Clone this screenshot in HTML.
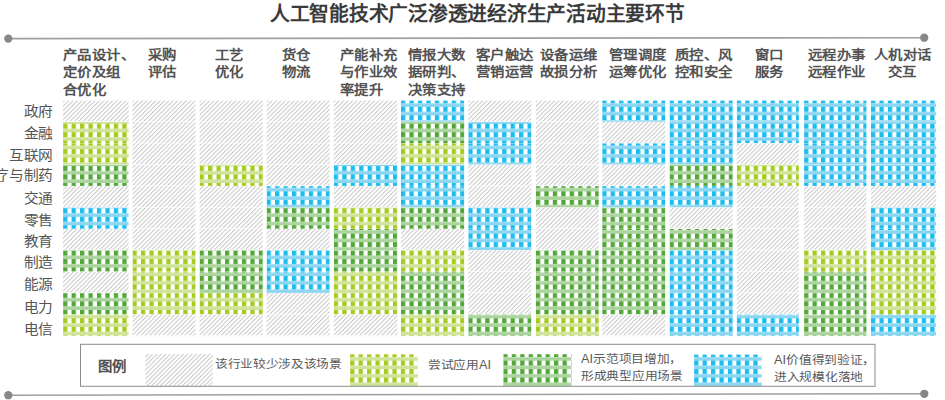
<!DOCTYPE html>
<html lang="zh-CN"><head><meta charset="utf-8"><style>
html,body{margin:0;padding:0;background:#fff;}
body{width:945px;height:400px;position:relative;overflow:hidden;font-family:"Liberation Sans",sans-serif;}
.t{position:absolute;left:270.1px;top:3.8px;font-size:20px;font-weight:bold;color:#3a3a3a;white-space:nowrap;line-height:20px;transform:scaleX(0.987);transform-origin:0 0;}
.h{position:absolute;top:45.8px;font-size:15px;font-weight:bold;color:#525252;line-height:20px;white-space:nowrap;transform:scale(0.96,0.865);transform-origin:0 0;}
.r{position:absolute;right:892.3px;font-size:15px;color:#555;line-height:20px;white-space:nowrap;text-align:right;transform:scale(0.98,0.9);transform-origin:100% 50%;}
.lg{position:absolute;font-size:13px;color:#595959;line-height:18.7px;white-space:nowrap;transform:scale(0.98,0.915);transform-origin:0 0;}
</style></head><body>
<svg width="945" height="400" viewBox="0 0 945 400" style="position:absolute;left:0;top:0">
<defs><pattern id="pL" x="0" y="5.36" width="8.46" height="8.46" patternUnits="userSpaceOnUse">
<rect width="8.46" height="8.46" fill="#fff"/><rect width="4.3" height="5.0" fill="#a6ca1e"/><rect y="5.0" width="8.46" height="3.46" fill="#cfe49a"/></pattern><pattern id="pD" x="0" y="5.36" width="8.46" height="8.46" patternUnits="userSpaceOnUse">
<rect width="8.46" height="8.46" fill="#fff"/><rect width="4.3" height="5.0" fill="#53a73a"/><rect y="5.0" width="8.46" height="3.46" fill="#acd49e"/></pattern><pattern id="pB" x="0" y="5.36" width="8.46" height="8.46" patternUnits="userSpaceOnUse">
<rect width="8.46" height="8.46" fill="#fff"/><rect width="4.3" height="5.0" fill="#1bbdee"/><rect y="5.0" width="8.46" height="3.46" fill="#8dd6f1"/></pattern><pattern id="pG" width="3.11" height="10" patternUnits="userSpaceOnUse" patternTransform="rotate(45)">
<rect width="3.11" height="10" fill="#fff"/><rect width="1.0" height="10" fill="#c8c8c8"/></pattern></defs>
<line x1="8.3" y1="38.6" x2="924.2" y2="37.7" stroke="#a0a0a0" stroke-width="1.6"/>
<circle cx="8.3" cy="38.6" r="4.15" fill="#878787"/>
<circle cx="924.2" cy="37.7" r="4.15" fill="#878787"/>
<line x1="8.3" y1="395.2" x2="924.3" y2="393.8" stroke="#a0a0a0" stroke-width="1.6"/>
<circle cx="8.3" cy="395.2" r="4.15" fill="#878787"/>
<circle cx="924.3" cy="393.8" r="4.15" fill="#878787"/>
<g transform="translate(63.1,0)"><rect y="100.60" width="65.5" height="20.7" fill="url(#pG)"/></g><g transform="translate(132.5,0)"><rect y="100.60" width="63.0" height="20.7" fill="url(#pG)"/></g><g transform="translate(199.6,0)"><rect y="100.60" width="63.2" height="20.7" fill="url(#pG)"/></g><g transform="translate(266.6,0)"><rect y="100.60" width="63.0" height="20.7" fill="url(#pG)"/></g><g transform="translate(333.8,0)"><rect y="100.60" width="63.5" height="20.7" fill="url(#pG)"/></g><g transform="translate(401.0,0)"><rect y="100.60" width="63.2" height="21.1" fill="url(#pB)"/></g><g transform="translate(468.3,0)"><rect y="100.60" width="63.0" height="20.7" fill="url(#pG)"/></g><g transform="translate(535.9,0)"><rect y="100.60" width="62.8" height="20.7" fill="url(#pG)"/></g><g transform="translate(602.2,0)"><rect y="100.60" width="63.0" height="21.1" fill="url(#pB)"/></g><g transform="translate(669.6,0)"><rect y="100.60" width="63.1" height="21.1" fill="url(#pB)"/></g><g transform="translate(736.8,0)"><rect y="100.60" width="62.0" height="21.1" fill="url(#pB)"/></g><g transform="translate(804.1,0)"><rect y="100.60" width="62.3" height="21.1" fill="url(#pB)"/></g><g transform="translate(871.0,0)"><rect y="100.60" width="65.2" height="21.1" fill="url(#pB)"/></g><g transform="translate(63.1,0)"><rect y="122.00" width="65.5" height="21.1" fill="url(#pL)"/></g><g transform="translate(132.5,0)"><rect y="122.00" width="63.0" height="20.7" fill="url(#pG)"/></g><g transform="translate(199.6,0)"><rect y="122.00" width="63.2" height="20.7" fill="url(#pG)"/></g><g transform="translate(266.6,0)"><rect y="122.00" width="63.0" height="20.7" fill="url(#pG)"/></g><g transform="translate(333.8,0)"><rect y="122.00" width="63.5" height="20.7" fill="url(#pG)"/></g><g transform="translate(401.0,0)"><rect y="122.00" width="63.2" height="21.1" fill="url(#pD)"/></g><g transform="translate(468.3,0)"><rect y="122.00" width="63.0" height="21.1" fill="url(#pB)"/></g><g transform="translate(535.9,0)"><rect y="122.00" width="62.8" height="20.7" fill="url(#pG)"/></g><g transform="translate(602.2,0)"><rect y="122.00" width="63.0" height="20.7" fill="url(#pG)"/></g><g transform="translate(669.6,0)"><rect y="122.00" width="63.1" height="21.1" fill="url(#pB)"/></g><g transform="translate(736.8,0)"><rect y="122.00" width="62.0" height="21.1" fill="url(#pB)"/></g><g transform="translate(804.1,0)"><rect y="122.00" width="62.3" height="21.1" fill="url(#pB)"/></g><g transform="translate(871.0,0)"><rect y="122.00" width="65.2" height="21.1" fill="url(#pB)"/></g><g transform="translate(63.1,0)"><rect y="143.40" width="65.5" height="21.1" fill="url(#pL)"/></g><g transform="translate(132.5,0)"><rect y="143.40" width="63.0" height="20.7" fill="url(#pG)"/></g><g transform="translate(199.6,0)"><rect y="143.40" width="63.2" height="20.7" fill="url(#pG)"/></g><g transform="translate(266.6,0)"><rect y="143.40" width="63.0" height="20.7" fill="url(#pG)"/></g><g transform="translate(333.8,0)"><rect y="143.40" width="63.5" height="20.7" fill="url(#pG)"/></g><g transform="translate(401.0,0)"><rect y="143.40" width="63.2" height="21.1" fill="url(#pL)"/></g><g transform="translate(468.3,0)"><rect y="143.40" width="63.0" height="21.1" fill="url(#pB)"/></g><g transform="translate(535.9,0)"><rect y="143.40" width="62.8" height="20.7" fill="url(#pG)"/></g><g transform="translate(602.2,0)"><rect y="143.40" width="63.0" height="21.1" fill="url(#pB)"/></g><g transform="translate(669.6,0)"><rect y="143.40" width="63.1" height="21.1" fill="url(#pB)"/></g><g transform="translate(736.8,0)"><rect y="143.40" width="62.0" height="20.7" fill="url(#pG)"/></g><g transform="translate(804.1,0)"><rect y="143.40" width="62.3" height="21.1" fill="url(#pB)"/></g><g transform="translate(871.0,0)"><rect y="143.40" width="65.2" height="21.1" fill="url(#pB)"/></g><g transform="translate(63.1,0)"><rect y="164.80" width="65.5" height="21.1" fill="url(#pD)"/></g><g transform="translate(132.5,0)"><rect y="164.80" width="63.0" height="20.7" fill="url(#pG)"/></g><g transform="translate(199.6,0)"><rect y="164.80" width="63.2" height="21.1" fill="url(#pL)"/></g><g transform="translate(266.6,0)"><rect y="164.80" width="63.0" height="20.7" fill="url(#pG)"/></g><g transform="translate(333.8,0)"><rect y="164.80" width="63.5" height="21.1" fill="url(#pB)"/></g><g transform="translate(401.0,0)"><rect y="164.80" width="63.2" height="21.1" fill="url(#pB)"/></g><g transform="translate(468.3,0)"><rect y="164.80" width="63.0" height="20.7" fill="url(#pG)"/></g><g transform="translate(535.9,0)"><rect y="164.80" width="62.8" height="20.7" fill="url(#pG)"/></g><g transform="translate(602.2,0)"><rect y="164.80" width="63.0" height="20.7" fill="url(#pG)"/></g><g transform="translate(669.6,0)"><rect y="164.80" width="63.1" height="21.1" fill="url(#pD)"/></g><g transform="translate(736.8,0)"><rect y="164.80" width="62.0" height="21.1" fill="url(#pL)"/></g><g transform="translate(804.1,0)"><rect y="164.80" width="62.3" height="21.1" fill="url(#pB)"/></g><g transform="translate(871.0,0)"><rect y="164.80" width="65.2" height="21.1" fill="url(#pB)"/></g><g transform="translate(63.1,0)"><rect y="186.20" width="65.5" height="20.7" fill="url(#pG)"/></g><g transform="translate(132.5,0)"><rect y="186.20" width="63.0" height="20.7" fill="url(#pG)"/></g><g transform="translate(199.6,0)"><rect y="186.20" width="63.2" height="20.7" fill="url(#pG)"/></g><g transform="translate(266.6,0)"><rect y="186.20" width="63.0" height="21.1" fill="url(#pB)"/></g><g transform="translate(333.8,0)"><rect y="186.20" width="63.5" height="20.7" fill="url(#pG)"/></g><g transform="translate(401.0,0)"><rect y="186.20" width="63.2" height="21.1" fill="url(#pB)"/></g><g transform="translate(468.3,0)"><rect y="186.20" width="63.0" height="20.7" fill="url(#pG)"/></g><g transform="translate(535.9,0)"><rect y="186.20" width="62.8" height="21.1" fill="url(#pD)"/></g><g transform="translate(602.2,0)"><rect y="186.20" width="63.0" height="21.1" fill="url(#pB)"/></g><g transform="translate(669.6,0)"><rect y="186.20" width="63.1" height="21.1" fill="url(#pB)"/></g><g transform="translate(736.8,0)"><rect y="186.20" width="62.0" height="20.7" fill="url(#pG)"/></g><g transform="translate(804.1,0)"><rect y="186.20" width="62.3" height="20.7" fill="url(#pG)"/></g><g transform="translate(871.0,0)"><rect y="186.20" width="65.2" height="20.7" fill="url(#pG)"/></g><g transform="translate(63.1,0)"><rect y="207.60" width="65.5" height="21.1" fill="url(#pB)"/></g><g transform="translate(132.5,0)"><rect y="207.60" width="63.0" height="20.7" fill="url(#pG)"/></g><g transform="translate(199.6,0)"><rect y="207.60" width="63.2" height="20.7" fill="url(#pG)"/></g><g transform="translate(266.6,0)"><rect y="207.60" width="63.0" height="21.1" fill="url(#pD)"/></g><g transform="translate(333.8,0)"><rect y="207.60" width="63.5" height="21.1" fill="url(#pL)"/></g><g transform="translate(401.0,0)"><rect y="207.60" width="63.2" height="21.1" fill="url(#pD)"/></g><g transform="translate(468.3,0)"><rect y="207.60" width="63.0" height="21.1" fill="url(#pB)"/></g><g transform="translate(535.9,0)"><rect y="207.60" width="62.8" height="20.7" fill="url(#pG)"/></g><g transform="translate(602.2,0)"><rect y="207.60" width="63.0" height="21.1" fill="url(#pD)"/></g><g transform="translate(669.6,0)"><rect y="207.60" width="63.1" height="20.7" fill="url(#pG)"/></g><g transform="translate(736.8,0)"><rect y="207.60" width="62.0" height="20.7" fill="url(#pG)"/></g><g transform="translate(804.1,0)"><rect y="207.60" width="62.3" height="20.7" fill="url(#pG)"/></g><g transform="translate(871.0,0)"><rect y="207.60" width="65.2" height="21.1" fill="url(#pB)"/></g><g transform="translate(63.1,0)"><rect y="229.00" width="65.5" height="20.7" fill="url(#pG)"/></g><g transform="translate(132.5,0)"><rect y="229.00" width="63.0" height="20.7" fill="url(#pG)"/></g><g transform="translate(199.6,0)"><rect y="229.00" width="63.2" height="20.7" fill="url(#pG)"/></g><g transform="translate(266.6,0)"><rect y="229.00" width="63.0" height="20.7" fill="url(#pG)"/></g><g transform="translate(333.8,0)"><rect y="229.00" width="63.5" height="21.1" fill="url(#pD)"/></g><g transform="translate(401.0,0)"><rect y="229.00" width="63.2" height="20.7" fill="url(#pG)"/></g><g transform="translate(468.3,0)"><rect y="229.00" width="63.0" height="21.1" fill="url(#pB)"/></g><g transform="translate(535.9,0)"><rect y="229.00" width="62.8" height="20.7" fill="url(#pG)"/></g><g transform="translate(602.2,0)"><rect y="229.00" width="63.0" height="21.1" fill="url(#pD)"/></g><g transform="translate(669.6,0)"><rect y="229.00" width="63.1" height="21.1" fill="url(#pD)"/></g><g transform="translate(736.8,0)"><rect y="229.00" width="62.0" height="20.7" fill="url(#pG)"/></g><g transform="translate(804.1,0)"><rect y="229.00" width="62.3" height="20.7" fill="url(#pG)"/></g><g transform="translate(871.0,0)"><rect y="229.00" width="65.2" height="21.1" fill="url(#pB)"/></g><g transform="translate(63.1,0)"><rect y="250.40" width="65.5" height="21.1" fill="url(#pD)"/></g><g transform="translate(132.5,0)"><rect y="250.40" width="63.0" height="21.1" fill="url(#pL)"/></g><g transform="translate(199.6,0)"><rect y="250.40" width="63.2" height="21.1" fill="url(#pD)"/></g><g transform="translate(266.6,0)"><rect y="250.40" width="63.0" height="21.1" fill="url(#pB)"/></g><g transform="translate(333.8,0)"><rect y="250.40" width="63.5" height="21.1" fill="url(#pD)"/></g><g transform="translate(401.0,0)"><rect y="250.40" width="63.2" height="21.1" fill="url(#pL)"/></g><g transform="translate(468.3,0)"><rect y="250.40" width="63.0" height="20.7" fill="url(#pG)"/></g><g transform="translate(535.9,0)"><rect y="250.40" width="62.8" height="21.1" fill="url(#pD)"/></g><g transform="translate(602.2,0)"><rect y="250.40" width="63.0" height="21.1" fill="url(#pD)"/></g><g transform="translate(669.6,0)"><rect y="250.40" width="63.1" height="21.1" fill="url(#pB)"/></g><g transform="translate(736.8,0)"><rect y="250.40" width="62.0" height="20.7" fill="url(#pG)"/></g><g transform="translate(804.1,0)"><rect y="250.40" width="62.3" height="21.1" fill="url(#pL)"/></g><g transform="translate(871.0,0)"><rect y="250.40" width="65.2" height="21.1" fill="url(#pL)"/></g><g transform="translate(63.1,0)"><rect y="271.80" width="65.5" height="20.7" fill="url(#pG)"/></g><g transform="translate(132.5,0)"><rect y="271.80" width="63.0" height="21.1" fill="url(#pL)"/></g><g transform="translate(199.6,0)"><rect y="271.80" width="63.2" height="21.1" fill="url(#pD)"/></g><g transform="translate(266.6,0)"><rect y="271.80" width="63.0" height="21.1" fill="url(#pB)"/></g><g transform="translate(333.8,0)"><rect y="271.80" width="63.5" height="21.1" fill="url(#pL)"/></g><g transform="translate(401.0,0)"><rect y="271.80" width="63.2" height="21.1" fill="url(#pD)"/></g><g transform="translate(468.3,0)"><rect y="271.80" width="63.0" height="20.7" fill="url(#pG)"/></g><g transform="translate(535.9,0)"><rect y="271.80" width="62.8" height="21.1" fill="url(#pD)"/></g><g transform="translate(602.2,0)"><rect y="271.80" width="63.0" height="21.1" fill="url(#pD)"/></g><g transform="translate(669.6,0)"><rect y="271.80" width="63.1" height="21.1" fill="url(#pB)"/></g><g transform="translate(736.8,0)"><rect y="271.80" width="62.0" height="20.7" fill="url(#pG)"/></g><g transform="translate(804.1,0)"><rect y="271.80" width="62.3" height="21.1" fill="url(#pD)"/></g><g transform="translate(871.0,0)"><rect y="271.80" width="65.2" height="21.1" fill="url(#pL)"/></g><g transform="translate(63.1,0)"><rect y="293.20" width="65.5" height="21.1" fill="url(#pD)"/></g><g transform="translate(132.5,0)"><rect y="293.20" width="63.0" height="21.1" fill="url(#pL)"/></g><g transform="translate(199.6,0)"><rect y="293.20" width="63.2" height="21.1" fill="url(#pL)"/></g><g transform="translate(266.6,0)"><rect y="293.20" width="63.0" height="20.7" fill="url(#pG)"/></g><g transform="translate(333.8,0)"><rect y="293.20" width="63.5" height="21.1" fill="url(#pL)"/></g><g transform="translate(401.0,0)"><rect y="293.20" width="63.2" height="21.1" fill="url(#pD)"/></g><g transform="translate(468.3,0)"><rect y="293.20" width="63.0" height="20.7" fill="url(#pG)"/></g><g transform="translate(535.9,0)"><rect y="293.20" width="62.8" height="21.1" fill="url(#pD)"/></g><g transform="translate(602.2,0)"><rect y="293.20" width="63.0" height="21.1" fill="url(#pD)"/></g><g transform="translate(669.6,0)"><rect y="293.20" width="63.1" height="21.1" fill="url(#pB)"/></g><g transform="translate(736.8,0)"><rect y="293.20" width="62.0" height="20.7" fill="url(#pG)"/></g><g transform="translate(804.1,0)"><rect y="293.20" width="62.3" height="21.1" fill="url(#pD)"/></g><g transform="translate(871.0,0)"><rect y="293.20" width="65.2" height="21.1" fill="url(#pL)"/></g><g transform="translate(63.1,0)"><rect y="314.60" width="65.5" height="21.1" fill="url(#pL)"/></g><g transform="translate(132.5,0)"><rect y="314.60" width="63.0" height="20.7" fill="url(#pG)"/></g><g transform="translate(199.6,0)"><rect y="314.60" width="63.2" height="20.7" fill="url(#pG)"/></g><g transform="translate(266.6,0)"><rect y="314.60" width="63.0" height="20.7" fill="url(#pG)"/></g><g transform="translate(333.8,0)"><rect y="314.60" width="63.5" height="20.7" fill="url(#pG)"/></g><g transform="translate(401.0,0)"><rect y="314.60" width="63.2" height="21.1" fill="url(#pL)"/></g><g transform="translate(468.3,0)"><rect y="314.60" width="63.0" height="21.1" fill="url(#pD)"/></g><g transform="translate(535.9,0)"><rect y="314.60" width="62.8" height="21.1" fill="url(#pL)"/></g><g transform="translate(602.2,0)"><rect y="314.60" width="63.0" height="20.7" fill="url(#pG)"/></g><g transform="translate(669.6,0)"><rect y="314.60" width="63.1" height="21.1" fill="url(#pB)"/></g><g transform="translate(736.8,0)"><rect y="314.60" width="62.0" height="21.1" fill="url(#pB)"/></g><g transform="translate(804.1,0)"><rect y="314.60" width="62.3" height="21.1" fill="url(#pD)"/></g><g transform="translate(871.0,0)"><rect y="314.60" width="65.2" height="21.1" fill="url(#pB)"/></g><g transform="translate(145.3,0)"><rect y="354.0" width="67.5" height="32.2" fill="url(#pG)"/></g><g transform="translate(350.1,0)"><rect y="354.3" width="67.7" height="31.9" fill="url(#pL)"/></g><g transform="translate(503.3,0)"><rect y="354.2" width="68.1" height="32.0" fill="url(#pD)"/></g><g transform="translate(694.1,0)"><rect y="354.6" width="67.6" height="31.6" fill="url(#pB)"/></g>
<rect x="80.5" y="344.3" width="794.5" height="42" fill="none" stroke="#8c8c8c" stroke-width="1"/>
</svg>
<div class="t">人工智能技术广泛渗透进经济生产活动主要环节</div>
<div class="h" style="left:63.3px;">产品设计、<br>定价及组<br>合优化</div><div class="h" style="left:147.7px;">采购<br>评估</div><div class="h" style="left:214.7px;">工艺<br>优化</div><div class="h" style="left:282.3px;">货仓<br>物流</div><div class="h" style="left:339.6px;">产能补充<br>与作业效<br>率提升</div><div class="h" style="left:408.0px;">情报大数<br>据研判、<br>决策支持</div><div class="h" style="left:475.6px;">客户触达<br>营销运营</div><div class="h" style="left:539.8px;">设备运维<br>故损分析</div><div class="h" style="left:608.6px;">管理调度<br>运筹优化</div><div class="h" style="left:675.3px;">质控、风<br>控和安全</div><div class="h" style="left:754.8px;">窗口<br>服务</div><div class="h" style="left:808.0px;">远程办事<br>远程作业</div><div class="h" style="left:874.1px;width:58.5px;text-align:center;">人机对话<br>交互</div>
<div class="r" style="top:101.2px">政府</div><div class="r" style="top:122.9px">金融</div><div class="r" style="top:144.8px">互联网</div><div class="r" style="top:165.3px">医疗与制药</div><div class="r" style="top:188.2px">交通</div><div class="r" style="top:210.0px">零售</div><div class="r" style="top:230.6px">教育</div><div class="r" style="top:251.9px">制造</div><div class="r" style="top:273.6px">能源</div><div class="r" style="top:297.0px">电力</div><div class="r" style="top:318.6px">电信</div>
<div class="lg" style="left:98.2px;top:357.7px;font-size:15px;font-weight:bold;color:#505050;transform:scale(0.96,0.9);transform-origin:0 0;">图例</div>
<div class="lg" style="left:215px;top:356.1px;transform:scale(0.973,0.915);">该行业较少涉及该场景</div>
<div class="lg" style="left:428px;top:357px;">尝试应用AI</div>
<div class="lg" style="left:581.3px;top:351.1px;">AI示范项目增加，<br>形成典型应用场景</div>
<div class="lg" style="left:774.2px;top:352.1px;">AI价值得到验证，<br>进入规模化落地</div>
</body></html>
